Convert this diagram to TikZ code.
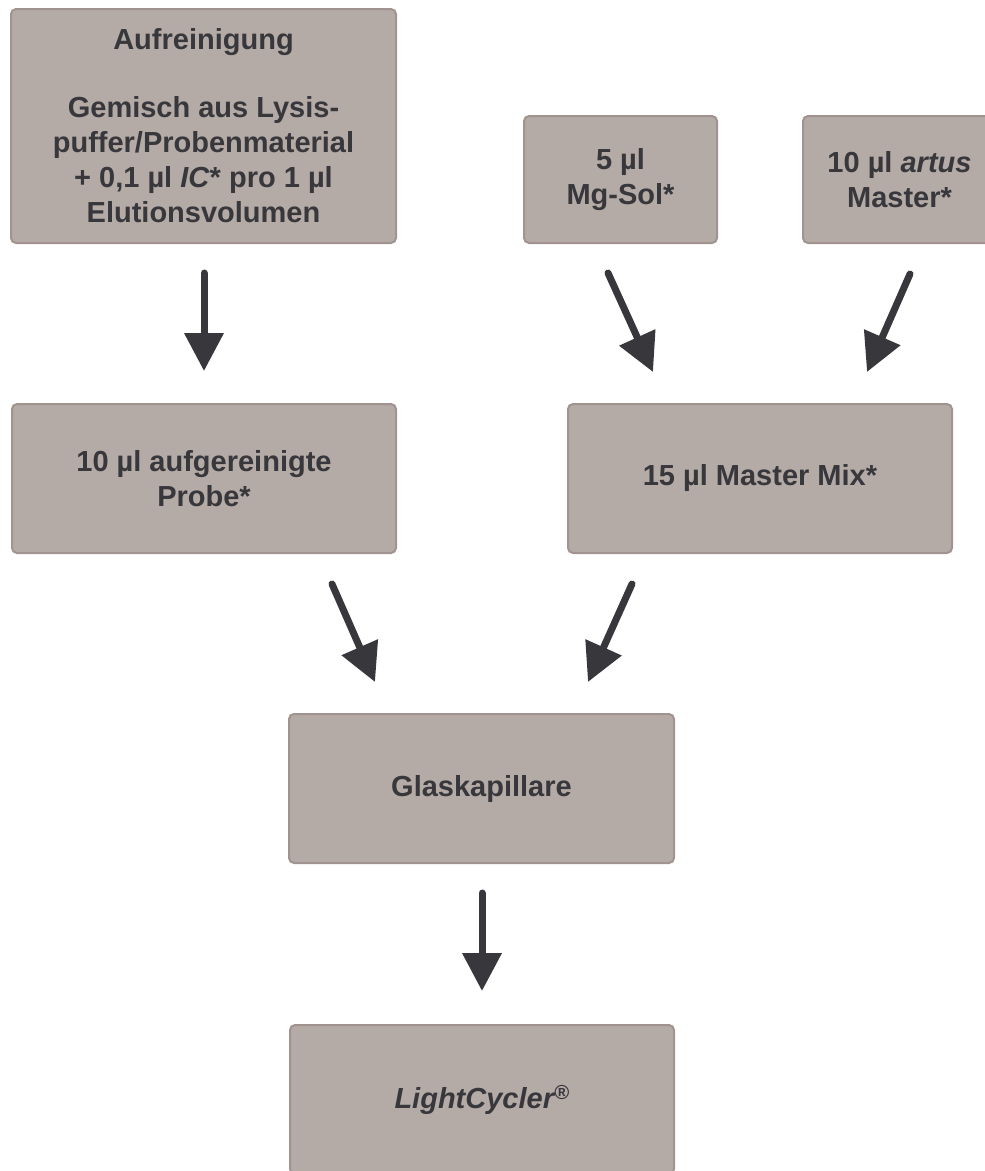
\documentclass[tikz,border=0pt]{standalone}
\usepackage{fontspec}
\setmainfont{Liberation Sans}
\usetikzlibrary{arrows.meta}
\definecolor{boxfill}{HTML}{B4AAA6}
\definecolor{boxline}{HTML}{A09390}
\definecolor{ink}{HTML}{38373C}
\tikzset{
  stepbox/.style={draw=boxline, line width=2pt, fill=boxfill, rounded corners=5pt,
    inner sep=0pt, align=center, text=ink,
    font=\bfseries\fontsize{29}{35}\selectfont},
  flow/.style={draw=ink, line width=7pt, line cap=round,
    -{Triangle[length=38pt,width=38pt]}}
}
\begin{document}
\begin{tikzpicture}[x=1pt,y=-1pt]
\useasboundingbox (0,0) rectangle (985,1171);
\fill[white] (0,0) rectangle (985,1171);
\clip (0,0) rectangle (985,1171);

\node[stepbox, minimum width=385pt, minimum height=234pt] (auf) at (203.5,126)
  {Aufreinigung\\[33pt]Gemisch aus Lysis-\\puffer/Probenmaterial\\+ 0,1 µl \textit{IC}* pro 1 µl\\Elutionsvolumen};
\node[stepbox, minimum width=193pt, minimum height=127pt] (mg) at (620.5,179.5)
  {5 µl\\Mg-Sol*};
\node[stepbox, minimum width=193pt, minimum height=127pt] (artus) at (899.5,179.5)
  {10 µl \textit{artus}\\Master*};
\node[stepbox, minimum width=384pt, minimum height=149pt] (probe) at (204,478.5)
  {10 µl aufgereinigte\\Probe*};
\node[stepbox, minimum width=384pt, minimum height=149pt] (mix) at (760,478.5)
  {15 µl Master Mix*};
\node[stepbox, minimum width=385pt, minimum height=149pt] (glas) at (481.5,788.5)
  {Glaskapillare};
\node[stepbox, minimum width=384pt, minimum height=149pt] (lc) at (482,1099.5)
  {\textit{LightCycler\textsuperscript{®}}};

\coordinate (a1s) at (204,273);  \coordinate (a1e) at (204,371);
\coordinate (a2s) at (608,273);  \coordinate (a2e) at (653,372);
\coordinate (a3s) at (910,274);  \coordinate (a3e) at (867,372);
\coordinate (a4s) at (332,584);  \coordinate (a4e) at (375,682);
\coordinate (a5s) at (632,584);  \coordinate (a5e) at (588,682);
\coordinate (a6s) at (482,893);  \coordinate (a6e) at (482,991);

\draw[flow] (a1s) -- (a1e);
\draw[flow] (a2s) -- (a2e);
\draw[flow] (a3s) -- (a3e);
\draw[flow] (a4s) -- (a4e);
\draw[flow] (a5s) -- (a5e);
\draw[flow] (a6s) -- (a6e);
\end{tikzpicture}
\end{document}
